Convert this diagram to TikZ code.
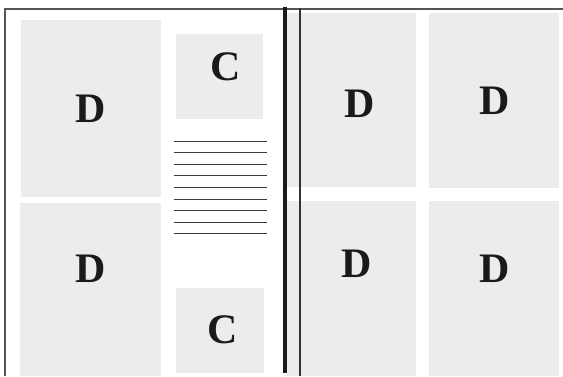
\documentclass[tikz,border=0pt]{standalone}
\usepackage{fontspec}
\setmainfont{Liberation Serif}
\definecolor{panelgrey}{HTML}{ECECEC}
\definecolor{framegrey}{HTML}{555555}
\definecolor{inkdark}{HTML}{1A1A1A}
\definecolor{ruledark}{HTML}{3A3A3A}
\tikzset{
  panel/.style={fill=panelgrey},
  letter/.style={inner sep=0pt, text=inkdark, font=\fontsize{42}{42}\selectfont\bfseries},
  frameline/.style={draw=framegrey, line width=1.1pt},
  textrule/.style={draw=ruledark, line width=1pt},
}
\begin{document}
\begin{tikzpicture}[x=1pt,y=-1pt]
\useasboundingbox (0,0) rectangle (563,376);
% grey panels
\fill[panel] (20.5,20) rectangle (161,197);
\fill[panel] (20,203) rectangle (161,376);
\fill[panel] (176,34) rectangle (263,119);
\fill[panel] (176,288) rectangle (264,373);
\fill[panel] (287,13) rectangle (416,187);
\fill[panel] (429,13) rectangle (559,188);
\fill[panel] (287,201) rectangle (416,376);
\fill[panel] (429,201) rectangle (559,376);
% text rules
\foreach \i in {0,...,8}{
  \draw[textrule] (174.3,{141+11.62*\i}) -- (267.3,{141+11.62*\i});
}
% frame
\coordinate (fbl) at (5,376);
\coordinate (ftl) at (5,9);
\coordinate (ftr) at (563,9);
\draw[frameline] (fbl) -- (ftl) -- (ftr);
% gutter lines
\coordinate (gta) at (285,6.7);
\coordinate (gba) at (285,373);
\coordinate (gtb) at (300,8);
\coordinate (gbb) at (300,376);
\draw[draw=inkdark, line width=3.5pt] (gta) -- (gba);
\draw[draw=inkdark!90, line width=1.5pt] (gtb) -- (gbb);
% letters
\node[letter] (l1) at (91,109) {D};
\node[letter] (l2) at (91,269) {D};
\node[letter] (c1) at (225.5,66.7) {C};
\node[letter] (c2) at (223,330) {C};
\node[letter] (r1) at (360,104) {D};
\node[letter] (r2) at (494.5,101) {D};
\node[letter] (r3) at (357,264) {D};
\node[letter] (r4) at (494.5,269) {D};
\end{tikzpicture}
\end{document}
